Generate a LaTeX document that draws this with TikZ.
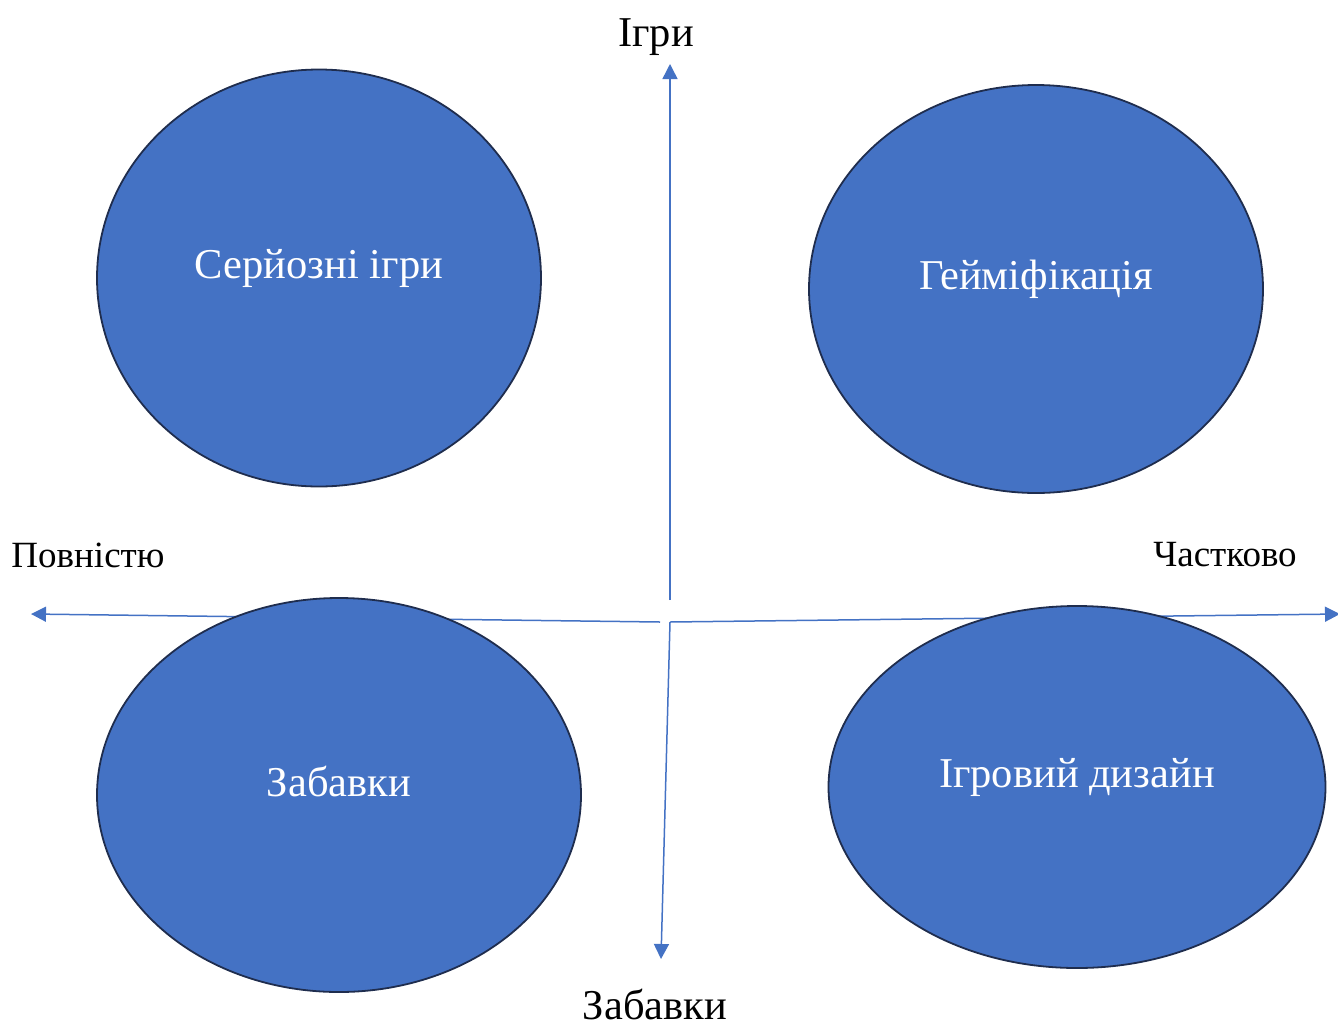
\documentclass[tikz,border=0pt]{standalone}
\usepackage{fontspec}
\setmainfont{Liberation Serif}
\usetikzlibrary{arrows.meta, positioning, shapes.geometric}
\definecolor{blueaccent}{HTML}{4472C4}
\definecolor{darkedge}{HTML}{1F2D4E}

\begin{document}
\begin{tikzpicture}[x=1pt, y=-1pt,
    blob/.style={ellipse, draw=darkedge, line width=1.8pt, fill=blueaccent, inner sep=0pt},
    blobtext/.style={text=white, font=\fontsize{42.5}{50}\selectfont},
    axisarrow/.style={draw=blueaccent, line width=1.5pt, -{Triangle[length=15pt, width=15pt]}},
    axislabel/.style={font=\fontsize{42.5}{50}\selectfont},
    sidelabel/.style={font=\fontsize{37}{44}\selectfont}]
    \useasboundingbox (0,0) rectangle (1338,1026);

    % axes
    \coordinate (top) at (670,600);
    \coordinate (topend) at (670,64);
    \coordinate (mid) at (670,622);
    \coordinate (midleft) at (660,622);
    \coordinate (bottomend) at (661,959);
    \coordinate (leftend) at (31,614);
    \coordinate (rightend) at (1340,614);
    \draw[axisarrow] (top) -- (topend);
    \draw[axisarrow] (mid) -- (bottomend);
    \draw[axisarrow] (midleft) -- (leftend);
    \draw[axisarrow] (mid) -- (rightend);

    \node[axislabel] (games) at (656,37) {Ігри};
    \node[axislabel, inner ysep=1pt] (fun) at (655,1004) {Забавки};
    \node[sidelabel] (full) at (88,555) {Повністю};
    \node[sidelabel] (partial) at (1225,555) {Частково};

    % quadrants
    \node[blob, minimum width=444, minimum height=417] (serious) at (319,278) {};
    \node[blob, minimum width=454, minimum height=408] (gamif) at (1036,289) {};
    \node[blob, minimum width=484, minimum height=394] (toys) at (339,795) {};
    \node[blob, minimum width=497, minimum height=362] (design) at (1077,787) {};

    \node[blobtext] at ([yshift=10pt]serious.center) {Серйозні ігри};
    \node[blobtext] at ([yshift=10pt]gamif.center) {Гейміфікація};
    \node[blobtext] at ([yshift=14pt]toys.center) {Забавки};
    \node[blobtext] at ([yshift=10pt]design.center) {Ігровий дизайн};
\end{tikzpicture}
\end{document}
